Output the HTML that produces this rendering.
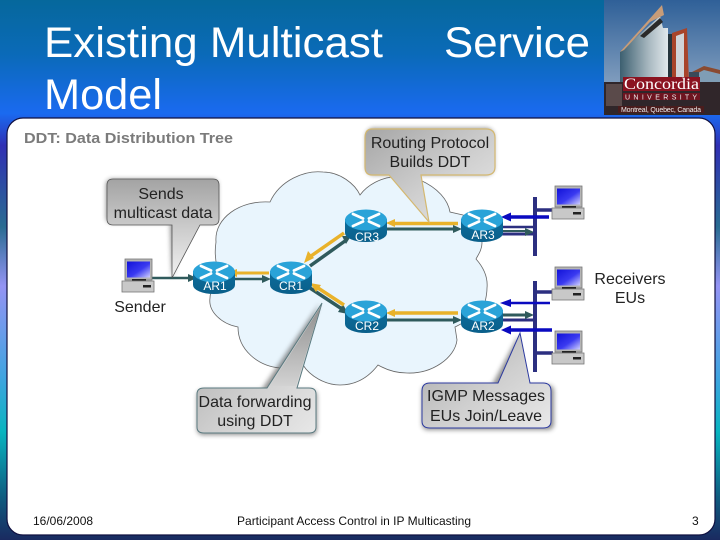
<!DOCTYPE html>
<html><head><meta charset="utf-8"><style>
html,body{margin:0;padding:0;background:#fff}
svg{display:block}
text{font-family:"Liberation Sans",sans-serif}
</style></head><body>
<svg width="720" height="540" viewBox="0 0 720 540" xmlns="http://www.w3.org/2000/svg">
<defs>
<linearGradient id="bg" x1="0" y1="0" x2="0" y2="540" gradientUnits="userSpaceOnUse">
<stop offset="0" stop-color="#06689c"/>
<stop offset=".1" stop-color="#0a6ab8"/>
<stop offset=".21" stop-color="#1a6af0"/>
<stop offset=".27" stop-color="#3030b4"/>
<stop offset=".42" stop-color="#2a6c92"/>
<stop offset=".53" stop-color="#9494f4"/>
<stop offset=".7" stop-color="#3fa4e0"/>
<stop offset=".8" stop-color="#08b4c0"/>
<stop offset=".92" stop-color="#0f5c80"/>
<stop offset="1" stop-color="#1a2a60"/>
</linearGradient>
<linearGradient id="gr" x1="0" y1="0" x2="1" y2="1">
<stop offset="0" stop-color="#a6a6a6"/><stop offset=".55" stop-color="#cfcfcf"/><stop offset="1" stop-color="#e9e9e9"/>
</linearGradient>
<linearGradient id="gv" x1="0" y1="0" x2="0" y2="1">
<stop offset="0" stop-color="#a3a3a3"/><stop offset=".45" stop-color="#c8c8c8"/><stop offset="1" stop-color="#f2f2f2"/>
</linearGradient>
<linearGradient id="tailUp" x1="0" y1="1" x2="0" y2="0">
<stop offset="0" stop-color="#d2d2d2"/><stop offset="1" stop-color="#8f8f8f"/>
</linearGradient>
<linearGradient id="sky" x1="0" y1="0" x2="0" y2="1">
<stop offset="0" stop-color="#2f6098"/><stop offset="1" stop-color="#9fb4cc"/>
</linearGradient>
<linearGradient id="tower" x1="0" y1="0" x2="1" y2="0">
<stop offset="0" stop-color="#3c5f70"/><stop offset=".6" stop-color="#a8b8c0"/><stop offset="1" stop-color="#e2e8ec"/>
</linearGradient>
<linearGradient id="scr" x1="0" y1="0" x2="1" y2="1">
<stop offset="0" stop-color="#1212d8"/><stop offset=".55" stop-color="#3a3af0"/><stop offset="1" stop-color="#d0d0ff"/>
</linearGradient>
<linearGradient id="rt" x1="0" y1="0" x2="0" y2="1">
<stop offset="0" stop-color="#0c6d9c"/><stop offset="1" stop-color="#0a5f8a"/>
</linearGradient>
<filter id="sh" x="-15%" y="-15%" width="130%" height="130%"><feGaussianBlur stdDeviation="2.5"/></filter>
<g id="router">
<path d="M-21,-7 V7 A21,9 0 0 0 21,7 V-7 Z" fill="url(#rt)"/>
<ellipse cx="0" cy="-6" rx="21" ry="10.5" fill="#2aa3d8"/>
<g stroke="#fff" stroke-width="2.8" fill="none" stroke-linecap="round">
<path d="M-13,-12 L-3,-7.5 M13,-12 L3,-7.5 M-13,0 L-3,-4.5 M13,0 L3,-4.5"/>
</g>
</g>
<g id="pc">
<rect x="3" y="0" width="27" height="21" fill="#b4b4b4" stroke="#777" stroke-width=".8"/>
<rect x="5" y="2.5" width="23" height="16" fill="url(#scr)"/>
<rect x="10" y="20" width="14" height="3" fill="#222"/>
<rect x="0" y="22" width="32" height="11" fill="#c8c8c8" stroke="#777" stroke-width=".8"/>
<rect x="21" y="26" width="8" height="2.5" fill="#222"/>
</g>
</defs>

<rect width="720" height="540" fill="url(#bg)"/>
<rect x="7" y="118" width="708" height="417" rx="16" ry="16" fill="#fff" stroke="#101040" stroke-width="1.2"/>

<!-- Title -->
<text x="44" y="57" font-size="43" fill="#fff" textLength="339" lengthAdjust="spacingAndGlyphs">Existing Multicast</text>
<text x="444" y="57" font-size="43" fill="#fff" textLength="146" lengthAdjust="spacingAndGlyphs">Service</text>
<text x="44" y="109" font-size="43" fill="#fff" textLength="118" lengthAdjust="spacingAndGlyphs">Model</text>

<!-- Concordia picture -->
<rect x="604" y="0" width="116" height="115" fill="url(#sky)"/>
<path d="M692,72 L704,66 L720,70 L720,92 L692,92 Z" fill="#7f9db5"/>
<path d="M692,72 L704,66 L720,70 L720,74 L704,70 L692,76 Z" fill="#8a4a30"/>
<path d="M620,52 L660,16 L663,28 L668,28 L668,82 L620,82 Z" fill="url(#tower)"/>
<path d="M620,52 L654,14 L662,5 L664,15 L650,22 L624,50 Z" fill="#c89c78"/>
<path d="M640,36 L660,18 L663,22 L644,38 Z" fill="#2a2a2a"/>
<rect x="668" y="34" width="4" height="48" fill="#26343c"/>
<path d="M672,33 L687,28 L689,82 L672,82 Z" fill="#a8442a"/>
<path d="M676,36 L684,33 L684,82 L676,82 Z" fill="#d0d4d8"/>
<rect x="689" y="72" width="10" height="12" fill="#3a4a58"/>
<rect x="604" y="82" width="116" height="33" fill="#30262a"/>
<rect x="606" y="84" width="16" height="22" fill="#5a4a4a"/>
<rect x="623" y="77" width="77" height="14" fill="#8b1320"/>
<text x="624" y="89" font-size="16" fill="#fff" style="font-family:'Liberation Serif',serif" textLength="75" lengthAdjust="spacingAndGlyphs">Concordia</text>
<rect x="623" y="93" width="77" height="7" fill="#6e1420"/>
<text x="625" y="99.5" font-size="7" fill="#eee" textLength="72">U N I V E R S I T Y</text>
<rect x="618" y="106" width="86" height="7" fill="#4a1c1c"/>
<text x="621" y="112" font-size="7" fill="#eee" textLength="80">Montreal, Quebec, Canada</text>

<text x="24" y="143" font-size="15" font-weight="bold" fill="#7b7b7b" textLength="209" lengthAdjust="spacingAndGlyphs">DDT: Data Distribution Tree</text>

<!-- Cloud -->
<path d="M216,242 C214,218 240,200 270,202 C280,180 305,170 323,172 C340,172 355,184 360,195 C368,184 382,178 392,177 C405,175 415,178 420,180 C438,188 448,200 450,212 L463,215 C475,220 482,232 482,243 C482,250 478,255 476,259 C484,268 488,278 487,288 C487,294 486,298 485,302 C480,315 465,322 455,327 L457,340 C455,358 432,374 407,373 C395,373 385,369 378,365 C368,378 355,385 340,385 C325,385 310,376 303,365 C295,368 288,369 280,368 C258,366 238,350 238,327 C222,324 208,312 210,298 C210,290 216,284 222,280 C216,268 214,255 216,242 Z" fill="#e9f5fd" stroke="#666" stroke-width=".8"/>

<!-- Callout shadows -->
<g filter="url(#sh)" fill="#555" opacity=".65">
<rect x="106" y="179" width="112" height="44" rx="6"/>
<rect x="366" y="128" width="128" height="47" rx="8"/>
<rect x="197" y="390" width="120" height="45" rx="6"/>
<rect x="422" y="385" width="132" height="45" rx="6"/>
<path d="M170,224 H186 L172,278 Z"/>
<path d="M260,392 L320,303 L285,392 Z"/>
<path d="M492,385 L518,336 L524,385 Z"/>
</g>

<!-- Links -->
<g fill="none">
<path d="M152,278 H188" stroke="#2f5a5c" stroke-width="2.5"/>
<path d="M188,274 L197,278 L188,282 Z" fill="#2f5a5c"/>
<path d="M237,273 H269" stroke="#e9b22a" stroke-width="3"/>
<path d="M237,269 L227,273 L237,277 Z" fill="#e9b22a"/>
<path d="M235,279 H262" stroke="#2f5a5c" stroke-width="2.5"/>
<path d="M262,275 L271,279 L262,283 Z" fill="#2f5a5c"/>
<path d="M310,266 L345,241" stroke="#2f5a5c" stroke-width="3.5"/>
<path d="M342,236 L351,236 L346,244 Z" fill="#2f5a5c"/>
<path d="M344,233 L311,256" stroke="#e9b22a" stroke-width="3.5"/>
<path d="M304,263 L308,251 L314,258 Z" fill="#e9b22a"/>
<path d="M310,288 L342,309" stroke="#2f5a5c" stroke-width="3.5"/>
<path d="M348,314 L338,312 L343,304 Z" fill="#2f5a5c"/>
<path d="M344,305 L318,288" stroke="#e9b22a" stroke-width="3.5"/>
<path d="M310,283 L321,285 L316,292 Z" fill="#e9b22a"/>
<path d="M395,223.500 H458" stroke="#e9b22a" stroke-width="3.500"/>
<path d="M395,219 L386,223 L395,227 Z" fill="#e9b22a"/>
<path d="M386,229 H455" stroke="#2f5a5c" stroke-width="3"/>
<path d="M453,225 L462,229 L453,233 Z" fill="#2f5a5c"/>
<path d="M395,313 H458" stroke="#e9b22a" stroke-width="3.500"/>
<path d="M395,309 L386,313 L395,317 Z" fill="#e9b22a"/>
<path d="M386,320 H455" stroke="#2f5a5c" stroke-width="3"/>
<path d="M453,316 L462,320 L453,324 Z" fill="#2f5a5c"/>
<path d="M502,227 H534" stroke="#2c2f80" stroke-width="2.500"/>
<path d="M502,234 H534" stroke="#2c2f80" stroke-width="3"/>
<path d="M502,231 H528" stroke="#2f5a5c" stroke-width="2"/>
<path d="M525,228 L534,232 L525,236 Z" fill="#2f5a5c"/>
<path d="M502,320 H534" stroke="#2c2f80" stroke-width="3"/>
<path d="M502,315 H528" stroke="#2f5a5c" stroke-width="3"/>
<path d="M525,311 L534,315 L525,319 Z" fill="#2f5a5c"/>
</g>

<!-- LAN bars -->
<path d="M535,210 H553 M535,292 H553 M535,353 H553" stroke="#2c2f80" stroke-width="3.500"/>
<rect x="533" y="197" width="4" height="59" fill="#2c2f80"/>
<rect x="533" y="281" width="4" height="91" fill="#2c2f80"/>

<!-- IGMP arrows -->
<path d="M510,217 H549" stroke="#0a0ac0" stroke-width="3.500"/>
<path d="M511,212.500 L501,217 L511,221.500 Z" fill="#0a0ac0"/>
<path d="M510,303 H550" stroke="#0a0ac0" stroke-width="2.500"/>
<path d="M511,299 L500,303 L511,307 Z" fill="#0a0ac0"/>
<path d="M510,330 H552" stroke="#0a0ac0" stroke-width="3.500"/>
<path d="M511,325.500 L501,330 L511,334.500 Z" fill="#0a0ac0"/>

<!-- Routers -->
<use href="#router" x="214" y="278"/>
<use href="#router" x="291" y="278"/>
<use href="#router" x="366" y="226"/>
<use href="#router" x="366" y="317"/>
<use href="#router" x="482" y="226"/>
<use href="#router" x="482" y="317"/>
<g font-size="12" fill="#fff" text-anchor="middle">
<text x="215" y="290">AR1</text>
<text x="291" y="290">CR1</text>
<text x="367" y="241">CR3</text>
<text x="367" y="330">CR2</text>
<text x="483" y="239">AR3</text>
<text x="483" y="330">AR2</text>
</g>

<!-- PCs -->
<use href="#pc" x="122" y="259"/>
<use href="#pc" x="552" y="186"/>
<use href="#pc" x="552" y="267"/>
<use href="#pc" x="552" y="331"/>

<!-- Callouts -->
<path d="M113,179 H213 Q219,179 219,185 V219 Q219,225 213,225 H200 L172,278 V225 H113 Q107,225 107,219 V185 Q107,179 113,179 Z" fill="url(#gv)" stroke="#555" stroke-width=".8"/>
<path d="M372,129 H486 Q495,129 495,138 V167 Q495,175 486,175 H421 L429,222 L389,175 H372 Q365,175 365,167 V138 Q365,129 372,129 Z" fill="url(#gr)" stroke="#d4b870" stroke-width="1.2"/>
<path d="M204,388 H267 L322,303 L297,388 H309 Q316,388 316,394 V427 Q316,433 309,433 H204 Q197,433 197,427 V394 Q197,388 204,388 Z" fill="url(#gr)" stroke="#5a7a80" stroke-width="1"/>
<path d="M270,386 L321,306 L296,386 Z" fill="url(#tailUp)"/>
<path d="M430,383 H498 L520,333 L530,383 H543 Q551,383 551,391 V421 Q551,428 543,428 H430 Q422,428 422,421 V391 Q422,383 430,383 Z" fill="url(#gr)" stroke="#2c3aa0" stroke-width="1"/>

<g font-size="16" fill="#222" text-anchor="middle">
<text x="161" y="199">Sends</text>
<text x="163" y="218">multicast data</text>
<text x="430" y="148">Routing Protocol</text>
<text x="430" y="167">Builds DDT</text>
<text x="255" y="407">Data forwarding</text>
<text x="255" y="426">using DDT</text>
<text x="486" y="401">IGMP Messages</text>
<text x="486" y="421">EUs Join/Leave</text>
<text x="140" y="312">Sender</text>
<text x="630" y="284">Receivers</text>
<text x="630" y="303">EUs</text>
</g>

<!-- Footer -->
<g font-size="12" fill="#111">
<text x="33" y="525">16/06/2008</text>
<text x="237" y="525" textLength="234">Participant Access Control in IP Multicasting</text>
<text x="692" y="525">3</text>
</g>
</svg>
</body></html>
